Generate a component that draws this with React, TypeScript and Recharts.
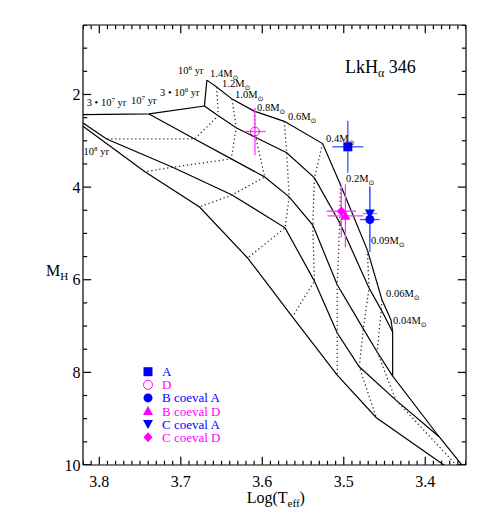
import { ComposedChart, Line, Scatter, XAxis, YAxis, ErrorBar } from 'recharts'

const FONT = "'Liberation Serif', 'Times New Roman', serif"

const masses = ['1.4', '1.2', '1.0', '0.8', '0.6', '0.4', '0.2', '0.09', '0.06', '0.04']
const ages = ['1 Myr', '3 Myr', '10 Myr', '30 Myr', '100 Myr']

// log(Teff) and M_H of each mass (order of `masses`) along each isochrone
const teff1 = [3.668, 3.656, 3.637, 3.610, 3.573, 3.526, 3.504, 3.471, 3.453, 3.442]
const mh1 = [1.69, 1.84, 2.10, 2.36, 2.58, 3.06, 3.95, 5.36, 6.44, 6.87]
const teff3 = [3.671, 3.654, 3.632, 3.608, 3.570, 3.536, 3.505, 3.469, 3.454, 3.440]
const mh3 = [2.25, 2.46, 2.72, 2.93, 3.26, 3.80, 4.77, 6.18, 6.65, 7.13]
const teff10 = [3.739, 3.683, 3.638, 3.597, 3.567, 3.538, 3.508, 3.476, 3.459, 3.440]
const mh10 = [2.42, 2.96, 3.39, 3.78, 4.21, 4.82, 6.11, 7.06, 7.56, 8.08]
const teff30 = [3.835, 3.791, 3.710, 3.637, 3.572, 3.536, 3.508, 3.481, 3.436, 3.383]
const mh30 = [2.44, 2.96, 3.57, 4.17, 4.88, 6.03, 7.15, 7.88, 8.60, 9.39]
const teff100 = [null, 3.842, 3.744, 3.677, 3.618, 3.563, 3.508, 3.460, 3.334, 3.300]
const mh100 = [null, 2.40, 3.67, 4.43, 5.53, 6.80, 8.06, 8.98, 10.53, 11.2]

// how many isochrones each mass track runs through
const trackLen = [4, 4, 5, 5, 5, 5, 5, 5, 5, 5]

// LkHa 346 components: log Teff, M_H and their errors
const starA = [{ t: 3.495, m: 3.13, et: 0.019, em: 0.56 }]
const starD = [{ t: 3.609, m: 2.80, et: 0.013, em: 0.51 }]
const starBA = [{ t: 3.468, m: 4.70, et: 0.012, em: 0.70 }]
const starBD = [{ t: 3.498, m: 4.62, et: 0.022, em: 0.68 }]
const starCA = [{ t: 3.468, m: 4.57, et: 0.009, em: 0.6 }]
const starCD = [{ t: 3.503, m: 4.52, et: 0.018, em: 0.56 }]

const xMajor = [3.8, 3.7, 3.6, 3.5, 3.4]
const yMajor = [2, 4, 6, 8, 10]
const xTicks = Array.from({ length: 48 }, (_, i) => Math.round(335 + i) / 100)
const yTicks = Array.from({ length: 20 }, (_, i) => 0.5 + i * 0.5)

const xDomain: [number, number] = [3.35, 3.82]
const yDomain: [number, number] = [0.5, 10]

const isoT = [teff1, teff3, teff10, teff30, teff100]
const isoM = [mh1, mh3, mh10, mh30, mh100]

const isochrones = isoT.map((ts, a) =>
  ts.map((t, i) => (t == null ? null : { t, m: isoM[a][i] })).filter(Boolean))
const tracks = masses.map((_, i) =>
  isoT.slice(0, trackLen[i]).map((ts, a) => (ts[i] == null ? null : { t: ts[i], m: isoM[a][i] })).filter(Boolean))

// inward tick marks on all four sides; anchors sit a hair inside the domain so they are not dropped
const isMajorX = (v: number) => Math.round(v * 100) % 10 === 0
const isMajorY = (v: number) => v % 2 === 0
const inX = (v: number) => Math.min(Math.max(v, xDomain[0] + 0.0002), xDomain[1] - 0.0002)
const inY = (v: number) => Math.min(Math.max(v, yDomain[0] + 0.005), yDomain[1] - 0.005)
const tickSides = [
  { side: 'bottom', data: xTicks.map(v => ({ t: inX(v), m: inY(yDomain[1]), major: isMajorX(v) })) },
  { side: 'top', data: xTicks.map(v => ({ t: inX(v), m: inY(yDomain[0]), major: isMajorX(v) })) },
  { side: 'left', data: yTicks.map(v => ({ t: inX(xDomain[1]), m: inY(v), major: isMajorY(v) })) },
  { side: 'right', data: yTicks.map(v => ({ t: inX(xDomain[0]), m: inY(v), major: isMajorY(v) })) },
]
function TickMark({ cx, cy, payload, side }: any) {
  const len = payload.major ? 8 : 4
  const d = side === 'bottom' ? `M${cx},${cy}v${-len}`
    : side === 'top' ? `M${cx},${cy}v${len}`
    : side === 'left' ? `M${cx},${cy}h${len}`
    : `M${cx},${cy}h${-len}`
  return <path d={d} stroke="#000" strokeWidth={1.2} fill="none" />
}

const BLUE = '#0000ff'
const PINK = '#ff00ff'

function Marker({ kind, cx, cy, color }: any) {
  switch (kind) {
    case 'square':
      return <rect x={cx - 4.5} y={cy - 4.5} width={9} height={9} fill={color} />
    case 'ring':
      return <circle cx={cx} cy={cy} r={4.5} fill="none" stroke={color} strokeWidth={1} />
    case 'circle':
      return <circle cx={cx} cy={cy} r={4.5} fill={color} />
    case 'up':
      return <polygon points={`${cx},${cy - 5} ${cx + 5},${cy + 4} ${cx - 5},${cy + 4}`} fill={color} />
    case 'down':
      return <polygon points={`${cx},${cy + 5} ${cx + 5},${cy - 4} ${cx - 5},${cy - 4}`} fill={color} />
    default:
      return <polygon points={`${cx},${cy - 5} ${cx + 4.5},${cy} ${cx},${cy + 5} ${cx - 4.5},${cy}`} fill={color} />
  }
}

const stars = [
  { name: 'A', data: starA, kind: 'square', color: BLUE, bar: '#3a55ff' },
  { name: 'D', data: starD, kind: 'ring', color: PINK, bar: '#ff3cff' },
  { name: 'C coeval D', data: starCD, kind: 'diamond', color: PINK, bar: '#ff3cff' },
  { name: 'B coeval D', data: starBD, kind: 'up', color: PINK, bar: '#ff3cff' },
  { name: 'C coeval A', data: starCA, kind: 'down', color: BLUE, bar: '#8a8aff' },
  { name: 'B coeval A', data: starBA, kind: 'circle', color: BLUE, bar: '#3a55ff' },
]
const legendOrder = ['A', 'D', 'B coeval A', 'B coeval D', 'C coeval A', 'C coeval D']

function BottomTick({ x, y, payload }: any) {
  const v = payload.value
  if (!xMajor.includes(v)) return <g />
  return <text x={x} y={y + 21.5} textAnchor="middle" fontFamily={FONT} fontSize={16} fill="#000">{v.toFixed(1)}</text>
}
function LeftTick({ x, y, payload }: any) {
  const v = payload.value
  if (!yMajor.includes(v)) return <g />
  return <text x={x - 2.6} y={y + 5.5} textAnchor="end" fontFamily={FONT} fontSize={16} fill="#000">{v}</text>
}

const Sun = () => <tspan fontFamily="'DejaVu Sans'" fontSize={7} dy={3}>⊙</tspan>

const massLabelPos = [
  [210, 77], [222, 87], [235, 98], [257, 111], [288, 120],
  [326, 141.5], [346, 181.5], [371, 244], [386, 296.5], [393, 324],
]
const ageLabels = [
  { pre: '', exp: '6', x: 178, y: 74 },
  { pre: '3 • ', exp: '6', x: 160, y: 96 },
  { pre: '', exp: '7', x: 131, y: 104 },
  { pre: '3 • ', exp: '7', x: 86.7, y: 106 },
  { pre: '', exp: '8', x: 83.5, y: 155 },
]

export default function App() {
  const axisLine = { stroke: '#000', strokeWidth: 1.2 }
  return (
    <div style={{ position: 'absolute', left: 0, top: 0, width: 491, height: 520, background: '#fff' }}>
      <ComposedChart width={491} height={520} margin={{ top: 24, right: 24, bottom: 0, left: 0 }}>
        <XAxis xAxisId="b" type="number" dataKey="t" domain={xDomain} reversed allowDataOverflow
          ticks={xTicks} interval={0} height={55} tickSize={0} tickMargin={0}
          tickLine={false} axisLine={axisLine} tick={BottomTick} />
        <XAxis xAxisId="t" orientation="top" type="number" dataKey="t" domain={xDomain} reversed allowDataOverflow
          ticks={xMajor} height={1} tickLine={false} axisLine={axisLine} tick={false} />
        <YAxis yAxisId="l" type="number" dataKey="m" domain={yDomain} reversed allowDataOverflow
          ticks={yTicks} interval={0} width={83} tickSize={0} tickMargin={0}
          tickLine={false} axisLine={axisLine} tick={LeftTick} />
        <YAxis yAxisId="r" orientation="right" type="number" dataKey="m" domain={yDomain} reversed allowDataOverflow
          ticks={yMajor} width={1} tickLine={false} axisLine={axisLine} tick={false} />

        {tickSides.map(s => (
          <Scatter key={'ticks-' + s.side} data={s.data} xAxisId="b" yAxisId="l" isAnimationActive={false}
            legendType="none" shape={(p: any) => <TickMark {...p} side={s.side} />} />
        ))}

        {isochrones.map((d, i) => (
          <Line key={ages[i]} name={ages[i]} data={d} dataKey="m" xAxisId="b" yAxisId="l"
            stroke="#000" strokeWidth={1.2} dot={false} isAnimationActive={false} />
        ))}
        {tracks.map((d, i) => {
          const solid = i === 0 || i === masses.length - 1
          return (
            <Line key={masses[i]} name={masses[i] + ' Msun'} data={d} dataKey="m" xAxisId="b" yAxisId="l"
              stroke={solid ? '#000' : '#333'} strokeWidth={solid ? 1.2 : 1.3}
              strokeDasharray={solid ? undefined : '1.3 2.7'} dot={false} isAnimationActive={false} />
          )
        })}
        {stars.map(s => (
          <Scatter key={s.name} name={s.name} data={s.data} xAxisId="b" yAxisId="l" isAnimationActive={false}
            shape={(p: any) => <Marker kind={s.kind} cx={p.cx} cy={p.cy} color={s.color} />}>
            <ErrorBar dataKey="em" direction="y" width={0} stroke={s.bar} strokeWidth={1.3} isAnimationActive={false} />
            <ErrorBar dataKey="et" direction="x" width={0} stroke={s.bar} strokeWidth={1.3} isAnimationActive={false} />
          </Scatter>
        ))}
      </ComposedChart>

      <svg width={491} height={520} style={{ position: 'absolute', left: 0, top: 0, pointerEvents: 'none' }}
        fontFamily={FONT}>
        <text x={345} y={73.3} fontSize={18}>LkH<tspan fontSize={12} dy={4}>α</tspan><tspan dy={-4}> 346</tspan></text>
        <text x={246.7} y={503} fontSize={16}>Log(T<tspan fontSize={11} dy={4}>eff</tspan><tspan dy={-4}>)</tspan></text>
        <text x={46} y={276} fontSize={16}>M<tspan fontSize={11} dy={4}>H</tspan></text>

        {masses.map((m, i) => (
          <text key={m} x={massLabelPos[i][0]} y={massLabelPos[i][1]} fontSize={10.5}>{m}M<Sun /></text>
        ))}
        {ageLabels.map((a, i) => (
          <text key={i} x={a.x} y={a.y} fontSize={10.5}>
            {a.pre}10<tspan fontSize={7} dy={-4.5}>{a.exp}</tspan><tspan dy={4.5}> yr</tspan>
          </text>
        ))}

        {legendOrder.map((name, i) => {
          const s = stars.find(st => st.name === name)!
          const cy = 371.7 + i * 13.1
          return (
            <g key={name}>
              <Marker kind={s.kind} cx={148} cy={cy} color={s.color} />
              <text x={162} y={cy + 4.5} fontSize={13} fill={s.color}>{name}</text>
            </g>
          )
        })}
      </svg>
    </div>
  )
}
